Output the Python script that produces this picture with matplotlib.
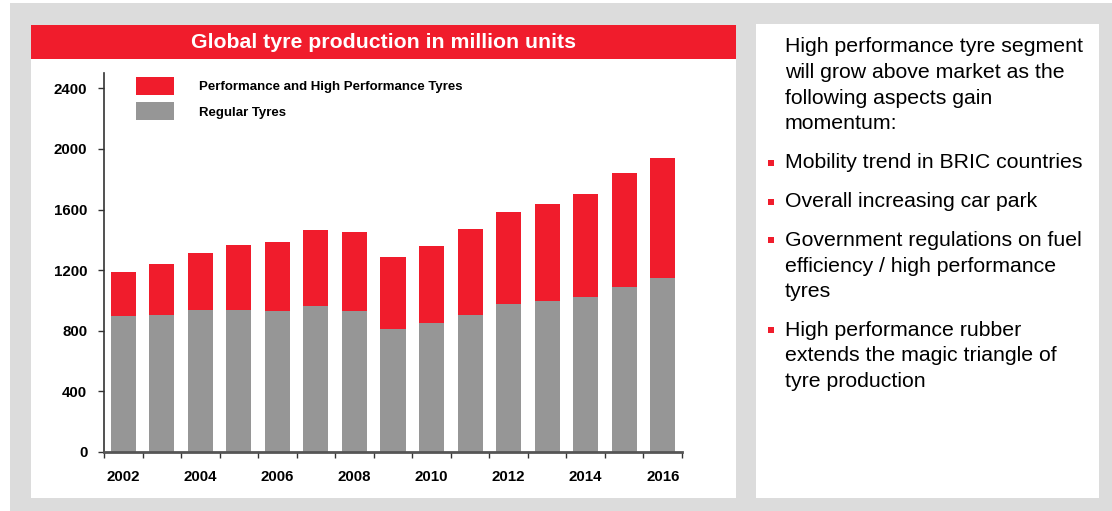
import matplotlib
matplotlib.use('Agg')
import matplotlib.pyplot as plt
from matplotlib.patches import Rectangle
import numpy as np

plt.rcParams['font.family'] = ['Liberation Sans', 'DejaVu Sans']

# data (million units)
years = [2002, 2003, 2004, 2005, 2006, 2007, 2008, 2009, 2010, 2011, 2012, 2013, 2014, 2015, 2016]
regular = [898, 904, 938, 938, 931, 964, 931, 812, 851, 904, 977, 997, 1023, 1089, 1149]
total = [1189, 1242, 1314, 1367, 1387, 1466, 1453, 1288, 1361, 1473, 1586, 1639, 1705, 1844, 1943]
performance = [t - r for t, r in zip(total, regular)]
yticks = [0, 400, 800, 1200, 1600, 2000, 2400]
labels = ['Performance and High Performance Tyres', 'Regular Tyres']
title = 'Global tyre production in million units'
intro = ['High performance tyre segment', 'will grow above market as the',
         'following aspects gain', 'momentum:']
bullets = [['Mobility trend in BRIC countries'],
           ['Overall increasing car park'],
           ['Government regulations on fuel', 'efficiency / high performance', 'tyres'],
           ['High performance rubber', 'extends the magic triangle of', 'tyre production']]

RED = '#f01c2c'
GREY = '#969696'
BG = '#dcdcdc'

W, H = 1112, 511
fig = plt.figure(figsize=(W / 100, H / 100), dpi=100)
fig.patch.set_facecolor('white')


def px_rect(x0, y0, x1, y1, color, z=-3):
    # rectangle given in pixel coords measured from the top-left corner
    fig.patches.append(Rectangle((x0 / W, 1 - y1 / H), (x1 - x0) / W, (y1 - y0) / H,
                                 transform=fig.transFigure, facecolor=color,
                                 edgecolor='none', zorder=z))


px_rect(10, 3, W, H, BG)
px_rect(31, 25, 736, 498, 'white', -2)
px_rect(756, 24, 1099, 498, 'white', -2)
px_rect(31, 25, 736, 59, RED, -1)
fig.text(383.5 / W, 1 - 42 / H, title, color='white', fontsize=15.3, fontweight='bold',
         ha='center', va='center')

ax = fig.add_axes([104 / W, 1 - 451.7 / H, (682 - 104) / W, (451.7 - 73.3) / H])
ax.set_facecolor('none')
x = np.arange(len(years))
h_perf = ax.bar(x, performance, bottom=regular, width=0.65, color=RED, label=labels[0])
h_reg = ax.bar(x, regular, width=0.65, color=GREY, label=labels[1])
ax.set_xlim(-0.5, len(years) - 0.5)
ax.set_ylim(0, 2500)
ax.set_yticks(yticks)
ax.set_yticklabels([str(v) for v in yticks], fontsize=10.8, fontweight='bold')
ax.set_xticks(x[::2])
ax.set_xticklabels([str(y) for y in years[::2]], fontsize=10.8, fontweight='bold')
ax.set_xticks(np.arange(-0.5, len(years), 1), minor=True)
ax.tick_params(axis='x', which='major', length=0, pad=13)
ax.tick_params(axis='x', which='minor', length=4, width=1, color='#333333', direction='out')
ax.tick_params(axis='y', length=4, width=1, color='#333333', pad=8)
for s in ['top', 'right']:
    ax.spines[s].set_visible(False)
ax.spines['left'].set_color('#333333')
ax.spines['left'].set_linewidth(1.2)
ax.spines['bottom'].set_color('#555555')
ax.spines['bottom'].set_linewidth(2)

ax.legend([h_perf, h_reg], labels, loc='upper left', bbox_to_anchor=(136 / W, 1 - 76.7 / H),
          bbox_transform=fig.transFigure, frameon=False, borderpad=0, borderaxespad=0,
          prop={'weight': 'bold', 'size': 9.5}, handlelength=2.9, handleheight=1.75,
          handletextpad=1.9, labelspacing=0.55)

# right hand text panel
fs = 15.3
step = 25.7
for i, line in enumerate(intro):
    fig.text(785 / W, 1 - (46.7 + i * step) / H, line, fontsize=fs, va='center', ha='left')
bullet_centers = [162.7, 201.7, 240.5, 330]
for c, lines in zip(bullet_centers, bullets):
    for i, line in enumerate(lines):
        fig.text(785 / W, 1 - (c + i * step) / H, line, fontsize=fs, va='center', ha='left')
    px_rect(768, c - 3, 774, c + 3, RED, 2)

fig.savefig('out.png', dpi=100)
